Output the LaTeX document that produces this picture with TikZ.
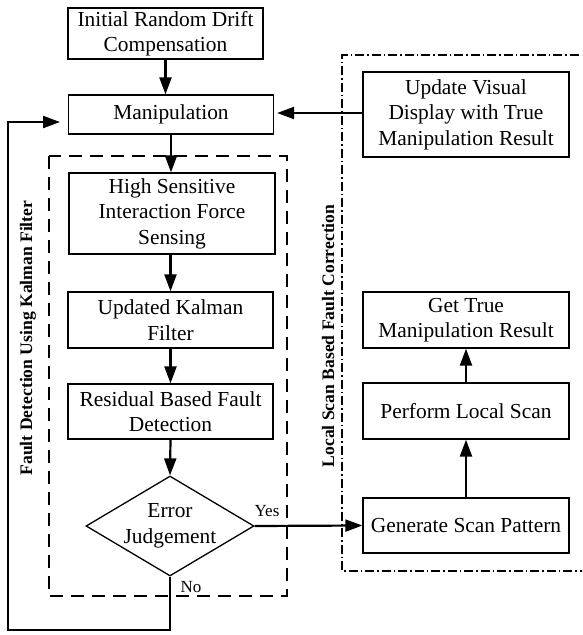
\documentclass[tikz,border=0pt]{standalone}
\usepackage{fontspec}
\setmainfont{Liberation Serif}
\usetikzlibrary{shapes.geometric,arrows.meta}

\begin{document}
\begin{tikzpicture}[x=1pt,y=-1pt,
  box/.style={draw,line width=1.3pt,rectangle,inner sep=0pt,align=center,
    font=\fontsize{21.4}{25.5}\selectfont},
  decide/.style={draw,line width=1.3pt,diamond,inner sep=0pt,align=center,
    shape aspect=1.68,minimum width=168pt,minimum height=100pt,
    font=\fontsize{21.4}{25.5}\selectfont},
  flow/.style={line width=2.2pt,-{Triangle[length=17pt,width=12pt]}},
  lbl/.style={font=\fontsize{17}{20}\selectfont,inner sep=0pt},
  sidelbl/.style={font=\fontsize{17.6}{20}\selectfont\bfseries,rotate=90,inner sep=0pt},
  group/.style={line width=1.1pt,dash pattern=on 13pt off 8pt},
  group2/.style={line width=1.1pt,dash pattern=on 9pt off 3pt on 1.5pt off 3pt}
]
\useasboundingbox (0,0) rectangle (582,635);
\clip (0,0) rectangle (582,635);

% grouping frames
\draw[group] (49,156) rectangle (287,596);
\draw[group2] (595,55) -- (342,55) -- (342,571) -- (595,571);

% left column
\node[box,minimum width=195pt,minimum height=51pt] (init) at (165.5,33.5)
  {Initial Random Drift\\Compensation};
\node[box,minimum width=205pt,minimum height=39pt] (manip) at (171,114.5)
  {Manipulation};
\node[box,minimum width=206pt,minimum height=81pt] (sense) at (172,213.5)
  {High Sensitive\\Interaction Force\\Sensing};
\node[box,minimum width=205pt,minimum height=56pt] (kalman) at (170.5,320)
  {Updated Kalman\\Filter};
\node[box,minimum width=205pt,minimum height=55pt] (resid) at (170.5,411.5)
  {Residual Based Fault\\Detection};
\node[decide] (err) at (170,526) {Error\\Judgement};

% right column
\node[box,minimum width=206pt,minimum height=85pt] (update) at (466,114.5)
  {Update Visual\\Display with True\\Manipulation Result};
\node[box,minimum width=206pt,minimum height=56pt] (gettrue) at (466,320)
  {Get True\\Manipulation Result};
\node[box,minimum width=206pt,minimum height=56pt] (perform) at (466,411)
  {Perform Local Scan};
\node[box,minimum width=206pt,minimum height=55pt] (gen) at (466,525.5)
  {Generate Scan Pattern};

% group titles
\node[sidelbl] (flbl) at (28,338) {Fault Detection Using Kalman Filter};
\node[sidelbl] (clbl) at (328,336) {Local Scan Based Fault Correction};

% connectors
\draw[flow] (init.south) -- (init.south |- manip.north);
\draw[flow] (manip.south) -- (manip.south |- sense.north);
\draw[flow] (sense.south -| kalman) -- (kalman.north);
\draw[flow] (kalman.south) -- (resid.north);
\draw[flow] (resid.south) -- (err.north);
\draw[flow] (err.east) -- (gen.west);
\draw[flow] (gen.north) -- (perform.south);
\draw[flow] (perform.north) -- (gettrue.south);
\draw[flow] ([yshift=1.5pt]update.west) -- ([xshift=3pt,yshift=1.5pt]manip.east);

\coordinate (loopbot) at (8,630);
\coordinate (loopend) at (60,122);
\draw[flow] (err.south) |- (loopbot) |- (loopend);

\node[lbl] (yes) at (267,511) {Yes};
\node[lbl] (no) at (191,587) {No};
\end{tikzpicture}
\end{document}
